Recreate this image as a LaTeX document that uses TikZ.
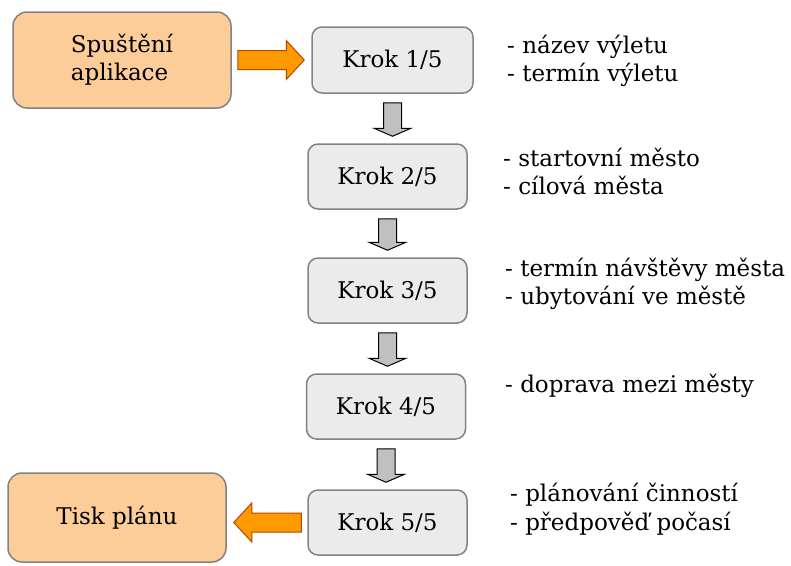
\documentclass[tikz,border=0pt]{standalone}
\usepackage{fontspec}
\setmainfont{DejaVu Serif}
\usetikzlibrary{calc}

\definecolor{boxorange}{RGB}{252,204,153}
\definecolor{boxgray}{RGB}{235,235,235}
\definecolor{framegray}{RGB}{130,130,130}
\definecolor{arroworange}{RGB}{255,153,0}
\definecolor{arrowrim}{RGB}{180,70,0}
\definecolor{arrowgray}{RGB}{192,192,192}

\tikzset{
  startbox/.style={draw=framegray, fill=boxorange, line width=1.5pt,
    rounded corners=14pt, minimum width=218pt, minimum height=96pt,
    align=left, font=\fontsize{23}{28}\selectfont},
  krokbox/.style={draw=framegray, fill=boxgray, line width=1.5pt,
    rounded corners=10pt, minimum width=159pt, minimum height=65pt,
    font=\fontsize{23}{28}\selectfont},
  note/.style={anchor=west, align=left, inner sep=0pt,
    font=\fontsize{23}{28.5}\selectfont},
  flowdown/.style={draw=black, fill=arrowgray, line width=1pt, to path={
    let \p1=($(\tikztostart)+(0pt,-9pt)$), \p2=($(\tikztotarget)+(0pt,7pt)$) in
    (\x1-9pt,\y1) -- (\x1+9pt,\y1) -- (\x1+9pt,\y2+8pt) -- (\x1+18.5pt,\y2+8pt)
    -- (\x1,\y2) -- (\x1-18.5pt,\y2+8pt) -- (\x1-9pt,\y2+8pt) -- cycle}},
  flowside/.style={draw=arrowrim, fill=arroworange, line width=1pt, to path={
    let \p1=(\tikztostart), \p2=(\tikztotarget), \n1={sign(\x2-\x1)} in
    (\x1+\n1*6pt,\y1+9.5pt) -- (\x2-\n1*25pt,\y1+9.5pt) -- (\x2-\n1*25pt,\y1+19.5pt)
    -- (\x2-\n1*7pt,\y1) -- (\x2-\n1*25pt,\y1-19.5pt) -- (\x2-\n1*25pt,\y1-9.5pt)
    -- (\x1+\n1*6pt,\y1-9.5pt) -- cycle}}
}

\begin{document}
\begin{tikzpicture}[x=1pt,y=-1pt]
  \useasboundingbox (0,0) rectangle (791,565);

  % start and end
  \node[startbox] (spust) at (122,60) {Spuštění\\aplikace};
  \node[startbox, minimum height=89pt, align=center] (tisk) at (117,517.5) {Tisk plánu};

  % steps of the wizard
  \node[krokbox, minimum width=161pt, minimum height=66pt] (k1) at (392.5,60) {Krok 1/5};
  \node[krokbox] (k2) at (387.5,176.5) {Krok 2/5};
  \node[krokbox] (k3) at (387.5,290.5) {Krok 3/5};
  \node[krokbox] (k4) at (386,406.5) {Krok 4/5};
  \node[krokbox] (k5) at (387.5,522.5) {Krok 5/5};

  % what each step asks for
  \node[note] (p1) at (507,61) {- název výletu\\- termín výletu};
  \node[note] (p2) at (503,171.5) {- startovní město\\- cílová města};
  \node[note] (p3) at (505,284) {- termín návštěvy města\\- ubytování ve městě};
  \node[note] (p4) at (505,386) {- doprava mezi městy};
  \node[note] (p5) at (510,509) {- plánování činností\\- předpověď počasí};

  \draw[flowside] (spust.east) to (k1.west);
  \draw[flowdown] (k1.south) to (k2.north);
  \draw[flowdown] (k2.south) to (k3.north);
  \draw[flowdown] (k3.south) to (k4.north);
  \draw[flowdown] (k4.south) to (k5.north);
  \draw[flowside] (k5.west) to (tisk.east);
\end{tikzpicture}
\end{document}
